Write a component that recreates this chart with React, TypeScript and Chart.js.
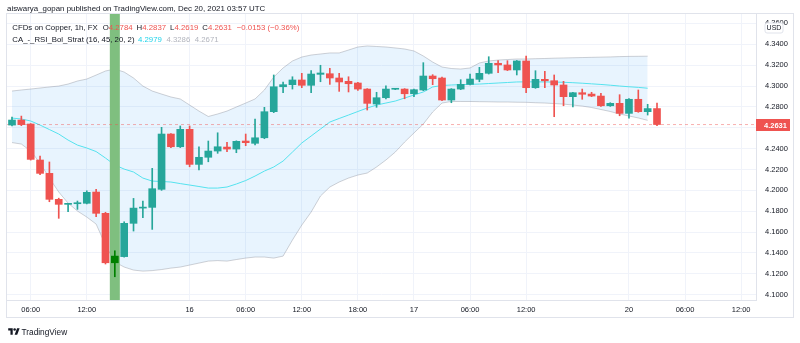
import React, { useEffect, useRef } from 'react';
import { Chart, registerables } from 'chart.js';

Chart.register(...registerables);

// ---- Data (hourly candles, CFDs on Copper, 1h) ----
const opens = [4.2626, 4.2674, 4.2636, 4.2291, 4.2163, 4.1914, 4.1866, 4.1872, 4.1876, 4.1984,
  4.1780, 4.1306, 4.1365, 4.1684, 4.1830, 4.1837, 4.2010, 4.2540, 4.2418, 4.2585,
  4.2249, 4.2317, 4.2377, 4.2415, 4.2396, 4.2473, 4.2451, 4.2504, 4.2754, 4.2993,
  4.3013, 4.3058, 4.3007, 4.3112, 4.3118, 4.3077, 4.3045, 4.3029, 4.2971, 4.2828,
  4.2888, 4.2969, 4.2971, 4.2926, 4.2962, 4.3096, 4.3077, 4.2866, 4.2971, 4.3016,
  4.3064, 4.3122, 4.3218, 4.3202, 4.3154, 4.3240, 4.2984, 4.3064, 4.3051, 4.3010,
  4.2898, 4.2936, 4.2923, 4.2904, 4.2811, 4.2834, 4.2738, 4.2873, 4.2754, 4.2784];
const highs = [4.2703, 4.2712, 4.2640, 4.2329, 4.2272, 4.1925, 4.1875, 4.1898, 4.1996, 4.2010,
  4.1790, 4.1421, 4.1699, 4.1923, 4.1898, 4.2211, 4.2604, 4.2545, 4.2617, 4.2617,
  4.2418, 4.2473, 4.2552, 4.2460, 4.2475, 4.2540, 4.2684, 4.2796, 4.3106, 4.3039,
  4.3089, 4.3122, 4.3147, 4.3199, 4.3170, 4.3122, 4.3089, 4.3035, 4.2975, 4.2940,
  4.3003, 4.2975, 4.2975, 4.2970, 4.3224, 4.3109, 4.3085, 4.2975, 4.3061, 4.3115,
  4.3179, 4.3281, 4.3243, 4.3243, 4.3245, 4.3288, 4.3147, 4.3141, 4.3106, 4.3045,
  4.2940, 4.2971, 4.2940, 4.2930, 4.2840, 4.2917, 4.2880, 4.2962, 4.2825, 4.2837];
const lows = [4.2617, 4.2620, 4.2290, 4.2150, 4.1891, 4.1732, 4.1795, 4.1818, 4.1870, 4.1747,
  4.1294, 4.1172, 4.1360, 4.1610, 4.1738, 4.1626, 4.2000, 4.2410, 4.2410, 4.2226,
  4.2195, 4.2274, 4.2355, 4.2370, 4.2361, 4.2428, 4.2435, 4.2495, 4.2745, 4.2936,
  4.2971, 4.2984, 4.2936, 4.3041, 4.3016, 4.2949, 4.2943, 4.2959, 4.2770, 4.2796,
  4.2876, 4.2965, 4.2878, 4.2898, 4.2955, 4.3013, 4.2860, 4.2840, 4.2965, 4.3010,
  4.3041, 4.3115, 4.3128, 4.3148, 4.3106, 4.2936, 4.2978, 4.2984, 4.2706, 4.2811,
  4.2799, 4.2873, 4.2898, 4.2805, 4.2805, 4.2715, 4.2691, 4.2748, 4.2722, 4.2619];
const closes = [4.2674, 4.2630, 4.2297, 4.2163, 4.1914, 4.1866, 4.1872, 4.1878, 4.1981, 4.1780,
  4.1306, 4.1370, 4.1684, 4.1830, 4.1837, 4.2016, 4.2540, 4.2418, 4.2585, 4.2249,
  4.2317, 4.2377, 4.2418, 4.2396, 4.2470, 4.2457, 4.2504, 4.2754, 4.2993, 4.3013,
  4.3058, 4.3007, 4.3115, 4.3125, 4.3077, 4.3039, 4.3022, 4.2971, 4.2834, 4.2888,
  4.2971, 4.2973, 4.2926, 4.2965, 4.3096, 4.3070, 4.2866, 4.2971, 4.3016, 4.3067,
  4.3122, 4.3218, 4.3202, 4.3154, 4.3240, 4.2984, 4.3064, 4.3050, 4.3010, 4.2898,
  4.2936, 4.2921, 4.2904, 4.2811, 4.2834, 4.2738, 4.2873, 4.2754, 4.2784, 4.2631];

// Bollinger-style bands of the CA_-_RSI_Bol_Strat indicator
const bbUpper = [4.2952, 4.2962, 4.2971, 4.2981, 4.2991, 4.3000, 4.3019, 4.3048, 4.3067, 4.3105,
  4.3144, 4.3163, 4.3134, 4.3077, 4.3000, 4.2952, 4.2923, 4.2895, 4.2876, 4.2818,
  4.2760, 4.2708, 4.2732, 4.2760, 4.2799, 4.2837, 4.2876, 4.2962, 4.3086, 4.3173,
  4.3240, 4.3278, 4.3297, 4.3307, 4.3317, 4.3317, 4.3345, 4.3374, 4.3384, 4.3379,
  4.3374, 4.3365, 4.3355, 4.3336, 4.3288, 4.3230, 4.3182, 4.3168, 4.3163, 4.3173,
  4.3221, 4.3240, 4.3249, 4.3254, 4.3259, 4.3259, 4.3262, 4.3264, 4.3267, 4.3269,
  4.3271, 4.3273, 4.3275, 4.3277, 4.3279, 4.3282, 4.3284, 4.3285, 4.3286];
const bbBasis = [4.2693, 4.2684, 4.2665, 4.2626, 4.2583, 4.2540, 4.2482, 4.2434, 4.2406, 4.2372,
  4.2310, 4.2243, 4.2204, 4.2176, 4.2118, 4.2089, 4.2085, 4.2080, 4.2065, 4.2051,
  4.2037, 4.2022, 4.2022, 4.2032, 4.2061, 4.2094, 4.2137, 4.2185, 4.2224, 4.2281,
  4.2367, 4.2454, 4.2521, 4.2588, 4.2655, 4.2689, 4.2722, 4.2756, 4.2789, 4.2818,
  4.2837, 4.2856, 4.2885, 4.2914, 4.2943, 4.2991, 4.3005, 4.3010, 4.3013, 4.3016,
  4.3019, 4.3024, 4.3029, 4.3034, 4.3039, 4.3040, 4.3040, 4.3039, 4.3038, 4.3036,
  4.3032, 4.3027, 4.3021, 4.3015, 4.3008, 4.3000, 4.2993, 4.2987, 4.2979];
const bbLower = [4.2458, 4.2444, 4.2377, 4.2262, 4.2118, 4.1984, 4.1878, 4.1802, 4.1744, 4.1677,
  4.1476, 4.1313, 4.1265, 4.1236, 4.1226, 4.1231, 4.1241, 4.1255, 4.1265, 4.1284,
  4.1303, 4.1322, 4.1327, 4.1322, 4.1337, 4.1351, 4.1361, 4.1361, 4.1351, 4.1370,
  4.1524, 4.1667, 4.1792, 4.1946, 4.2032, 4.2080, 4.2118, 4.2147, 4.2166, 4.2224,
  4.2291, 4.2367, 4.2463, 4.2550, 4.2636, 4.2751, 4.2837, 4.2852, 4.2852, 4.2852,
  4.2850, 4.2849, 4.2847, 4.2847, 4.2845, 4.2844, 4.2840, 4.2837, 4.2832, 4.2827,
  4.2818, 4.2808, 4.2794, 4.2775, 4.2756, 4.2732, 4.2713, 4.2694, 4.2671];

const highlightBars = [11];

const timeTickIndex = [2, 8, 19, 25, 31, 37, 43, 49, 55, 66, 72, 78];
const timeTickLabels = ['06:00', '12:00', '16', '06:00', '12:00', '18:00', '17', '06:00', '12:00', '20', '06:00', '12:00'];
const priceTicks = [4.10, 4.12, 4.14, 4.16, 4.18, 4.20, 4.22, 4.24, 4.26, 4.28, 4.30, 4.32, 4.34, 4.36];

const X_MIN = -0.535;
const X_MAX = 79.59;
const Y_MIN = 4.09492;
const Y_MAX = 4.36904;

const UP = '#26a69a';
const DOWN = '#ef5350';
const HL = '#008000';
const TEXT = '#131722';
const FONT = "'Liberation Sans', Arial, sans-serif";

const last = closes.length - 1;
const lastClose = closes[last];
const change = closes[last] - closes[last - 1];
const changePct = (change / closes[last - 1]) * 100;
const fmt = (v: number) => (v < 0 ? '\u2212' : '') + Math.abs(v).toFixed(4);

const candleColor = (i: number) =>
  highlightBars.includes(i) ? HL : closes[i] >= opens[i] ? UP : DOWN;

const overlayPlugin = {
  id: 'tvOverlay',
  afterDraw(chart: any) {
    const { ctx, chartArea } = chart;
    const y = chart.scales.y;
    const x = chart.scales.x;
    ctx.save();
    // frame
    ctx.strokeStyle = '#e0e3eb';
    ctx.lineWidth = 1;
    ctx.strokeRect(Math.round(chartArea.left) - 0.5, Math.round(chartArea.top) - 0.5,
      Math.round(y.right - chartArea.left) + 1, Math.round(x.bottom - chartArea.top));
    // last price label
    const py = y.getPixelForValue(lastClose);
    ctx.fillStyle = DOWN;
    ctx.fillRect(y.left, Math.round(py) - 6, 34, 12);
    ctx.fillStyle = '#ffffff';
    ctx.font = `bold 7.5px ${FONT}`;
    ctx.textBaseline = 'middle';
    ctx.textAlign = 'left';
    ctx.fillText(lastClose.toFixed(4), y.left + 8, Math.round(py) + 0.5);
    // USD box
    const bx = y.left + 9, by = chartArea.top + 9, bw = 18, bh = 10;
    ctx.beginPath();
    const r = 2;
    ctx.moveTo(bx + r, by);
    ctx.arcTo(bx + bw, by, bx + bw, by + bh, r);
    ctx.arcTo(bx + bw, by + bh, bx, by + bh, r);
    ctx.arcTo(bx, by + bh, bx, by, r);
    ctx.arcTo(bx, by, bx + bw, by, r);
    ctx.closePath();
    ctx.fillStyle = '#ffffff';
    ctx.fill();
    ctx.strokeStyle = '#e0e3eb';
    ctx.stroke();
    ctx.fillStyle = TEXT;
    ctx.font = `7px ${FONT}`;
    ctx.textAlign = 'center';
    ctx.fillText('USD', bx + bw / 2, by + bh / 2 + 0.5);
    ctx.restore();
  },
};

export default function App() {
  const ref = useRef<HTMLCanvasElement>(null);

  useEffect(() => {
    if (!ref.current) return;
    const idx = closes.map((_, i) => i);
    const chart = new Chart(ref.current, {
      type: 'bar',
      data: {
        datasets: [
          {
            type: 'bar',
            label: 'bodies',
            data: idx.map((i) => ({ x: i, y: [opens[i], closes[i]] })) as any,
            backgroundColor: idx.map(candleColor),
            barThickness: 7,
            minBarLength: 1,
            grouped: false,
            order: 1,
          } as any,
          {
            type: 'bar',
            label: 'wicks',
            data: idx.map((i) => ({ x: i, y: [lows[i], highs[i]] })) as any,
            backgroundColor: idx.map(candleColor),
            barThickness: 1,
            grouped: false,
            order: 2,
          } as any,
          {
            type: 'line',
            label: 'last',
            data: [{ x: X_MIN, y: lastClose }, { x: X_MAX, y: lastClose }],
            borderColor: 'rgba(239,83,80,0.45)',
            borderWidth: 1,
            borderDash: [3, 3],
            pointRadius: 0,
            order: 3,
          } as any,
          {
            type: 'bar',
            label: 'highlight',
            data: highlightBars.map((i) => ({ x: i, y: [Y_MIN, Y_MAX] })) as any,
            backgroundColor: '#7fbf7f',
            barThickness: 9.35,
            grouped: false,
            order: 4,
          } as any,
          {
            type: 'line',
            label: 'basis',
            data: bbBasis.map((v, i) => ({ x: i, y: v })),
            borderColor: '#55e2ee',
            borderWidth: 1,
            pointRadius: 0,
            tension: 0,
            order: 5,
          } as any,
          {
            type: 'line',
            label: 'upper',
            data: bbUpper.map((v, i) => ({ x: i, y: v })),
            borderColor: 'rgba(120,123,134,0.35)',
            borderWidth: 1,
            pointRadius: 0,
            tension: 0,
            fill: false,
            order: 6,
          } as any,
          {
            type: 'line',
            label: 'lower',
            data: bbLower.map((v, i) => ({ x: i, y: v })),
            borderColor: 'rgba(120,123,134,0.35)',
            backgroundColor: 'rgba(33,150,243,0.1)',
            borderWidth: 1,
            pointRadius: 0,
            tension: 0,
            fill: '-1',
            order: 7,
          } as any,
        ],
      },
      options: {
        responsive: false,
        animation: false,
        devicePixelRatio: 1,
        layout: { padding: { left: 7, top: 14, right: 7, bottom: 25 } },
        plugins: { legend: { display: false }, tooltip: { enabled: false } },
        scales: {
          x: {
            type: 'linear',
            position: 'bottom',
            min: X_MIN,
            max: X_MAX,
            offset: false,
            grid: { color: '#f0f3fa', drawTicks: false, offset: false },
            border: { display: true, color: '#e0e3eb' },
            ticks: {
              autoSkip: false,
              maxRotation: 0,
              minRotation: 0,
              padding: 5,
              color: TEXT,
              font: { family: FONT, size: 7.5 },
              callback: (v: any) => {
                const k = timeTickIndex.indexOf(Number(v));
                return k >= 0 ? timeTickLabels[k] : '';
              },
            },
            afterBuildTicks: (scale: any) => {
              scale.ticks = timeTickIndex.map((v) => ({ value: v }));
            },
            afterFit: (scale: any) => {
              scale.height = 18;
            },
          } as any,
          y: {
            type: 'linear',
            position: 'right',
            min: Y_MIN,
            max: Y_MAX,
            grid: { color: '#f0f3fa', drawTicks: false },
            border: { display: true, color: '#e0e3eb' },
            ticks: {
              padding: 9,
              color: TEXT,
              font: { family: FONT, size: 7.5 },
              callback: (v: any) => Number(v).toFixed(4),
            },
            afterBuildTicks: (scale: any) => {
              scale.ticks = priceTicks.map((v) => ({ value: v }));
            },
            afterFit: (scale: any) => {
              scale.width = 37;
            },
          } as any,
        },
      },
      plugins: [overlayPlugin],
    });
    return () => chart.destroy();
  }, []);

  const red = { color: DOWN };
  return (
    <div style={{ position: 'fixed', left: 0, top: 0, width: 800, height: 343, background: '#ffffff', overflow: 'hidden', fontFamily: FONT, color: TEXT }}>
      <canvas ref={ref} width={800} height={343} style={{ position: 'absolute', left: 0, top: 0, width: 800, height: 343 }} />
      <div style={{ position: 'absolute', left: 7, top: 4.2, fontSize: 7.9, lineHeight: '10px', whiteSpace: 'nowrap' }}>
        aiswarya_gopan published on TradingView.com, Dec 20, 2021 03:57 UTC
      </div>
      <div style={{ position: 'absolute', left: 12.3, top: 23.2, fontSize: 7.8, lineHeight: '10px', whiteSpace: 'nowrap' }}>
        <span>CFDs on Copper, 1h, FX</span>
        <span style={{ marginLeft: 5 }}>O</span><span style={red}>{opens[last].toFixed(4)}</span>
        <span style={{ marginLeft: 4 }}>H</span><span style={red}>{highs[last].toFixed(4)}</span>
        <span style={{ marginLeft: 4 }}>L</span><span style={red}>{lows[last].toFixed(4)}</span>
        <span style={{ marginLeft: 4 }}>C</span><span style={red}>{lastClose.toFixed(4)}</span>
        <span style={{ marginLeft: 5, color: DOWN }}>{fmt(change)} ({changePct < 0 ? '\u2212' : ''}{Math.abs(changePct).toFixed(2)}%)</span>
      </div>
      <div style={{ position: 'absolute', left: 12.3, top: 34.9, fontSize: 7.8, lineHeight: '10px', whiteSpace: 'nowrap' }}>
        <span>CA_-_RSI_Bol_Strat (16, 45, 20, 2)</span>
        <span style={{ marginLeft: 3.5, color: '#1fd3ea' }}>{bbBasis[bbBasis.length - 1].toFixed(4)}</span>
        <span style={{ marginLeft: 4.5, color: '#b2b5be' }}>{bbUpper[bbUpper.length - 1].toFixed(4)}</span>
        <span style={{ marginLeft: 4.5, color: '#b2b5be' }}>{bbLower[bbLower.length - 1].toFixed(4)}</span>
      </div>
      <div style={{ position: 'absolute', left: 8, top: 326.5, display: 'flex', alignItems: 'center', whiteSpace: 'nowrap' }}>
        <svg width="12" height="9" viewBox="0 0 36 28">
          <path d="M14 24H7V11H0V4h14v20zM28 24h-8l7.5-20h8L28 24z" fill={TEXT} />
          <circle cx="20" cy="8" r="4" fill={TEXT} />
        </svg>
        <span style={{ marginLeft: 1.5, fontSize: 8.3, lineHeight: '10px' }}>TradingView</span>
      </div>
    </div>
  );
}
